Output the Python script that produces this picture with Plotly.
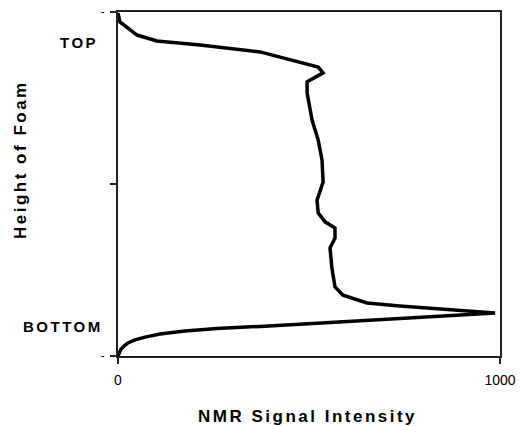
import plotly.graph_objects as go

# Curve (NMR signal intensity vs. height of foam, 0 = bottom, 100 = top)
intensity = [0, 2.6, 7.9, 15.7, 26, 44.5, 70.7, 110, 175, 259, 372, 738, 987, 738, 652, 589, 568, 560, 555,
             568, 568, 542, 524, 521, 537, 534, 524, 508, 495, 495, 537, 524, 406, 372, 215, 102, 50, 26, 5, 0]
height = [0, 0.9, 2.0, 2.9, 3.8, 4.7, 5.5, 6.4, 7.3, 8.0, 8.6, 10.9, 12.5, 14.5, 15.4, 17.7, 20.1, 25.6, 31.4,
          34.3, 37.2, 39.0, 41.6, 45.3, 50.6, 57.0, 62.8, 68.6, 76.5, 79.7, 82.3, 84.0, 87.5, 88.4, 90.4, 91.6,
          93.3, 95.3, 97.1, 99.7]

x_tickvals = [0, 1000]
x_ticktext = ["0", "1000"]
y_tickvals = [0, 50, 100]
y_ticktext = ["-", "", "-"]

FONT = "Liberation Sans, Arial, Helvetica, sans-serif"


def spaced(t, px):
    return f'<span style="letter-spacing:{px}px">{t}</span>'


fig = go.Figure()
fig.add_trace(go.Scatter(x=intensity, y=height, mode="lines",
                         line=dict(color="black", width=3.5), hoverinfo="skip", showlegend=False))

fig.update_layout(
    width=520, height=426,
    margin=dict(l=118, r=20, t=12, b=70, autoexpand=False),
    paper_bgcolor="white", plot_bgcolor="white",
    font=dict(family=FONT, color="black"),
    xaxis=dict(range=[0, 1000], tickvals=x_tickvals, ticktext=x_ticktext,
               ticks="outside", ticklen=6, tickwidth=1.5, tickcolor="#222",
               showline=True, linecolor="#222", linewidth=1.5, mirror=True, automargin=False,
               showgrid=False, zeroline=False, tickfont=dict(size=14), ticklabelstandoff=4),
    yaxis=dict(range=[0, 100], tickvals=y_tickvals, ticktext=y_ticktext,
               ticks="outside", ticklen=6, tickwidth=1.5, tickcolor="#222",
               showline=True, linecolor="#222", linewidth=1.5, mirror=True, automargin=False,
               showgrid=False, zeroline=False, tickfont=dict(size=12), ticklabelstandoff=3),
    annotations=[
        dict(text=spaced("<b>TOP</b>", 2.5), x=(100 - 118) / 382, y=91, xref="paper", yref="y",
             xanchor="right", yanchor="middle", showarrow=False, font=dict(size=15)),
        dict(text=spaced("<b>BOTTOM</b>", 2.5), x=(105 - 118) / 382, y=8.7, xref="paper", yref="y",
             xanchor="right", yanchor="middle", showarrow=False, font=dict(size=15)),
        dict(text=spaced("<b>Height of Foam</b>", 2.5), x=(20 - 118) / 382, y=(356 - 160) / 344,
             xref="paper", yref="paper", xanchor="center", yanchor="middle", textangle=-90,
             showarrow=False, font=dict(size=17)),
        dict(text=spaced("<b>NMR Signal Intensity</b>", 2.5), x=(307 - 118) / 382, y=(356 - 416) / 344,
             xref="paper", yref="paper", xanchor="center", yanchor="middle",
             showarrow=False, font=dict(size=17)),
    ],
)

fig.write_html(
    "out.html",
    config={"displayModeBar": False},
    post_script="document.body.style.margin='0';document.body.style.overflow='hidden';",
)
